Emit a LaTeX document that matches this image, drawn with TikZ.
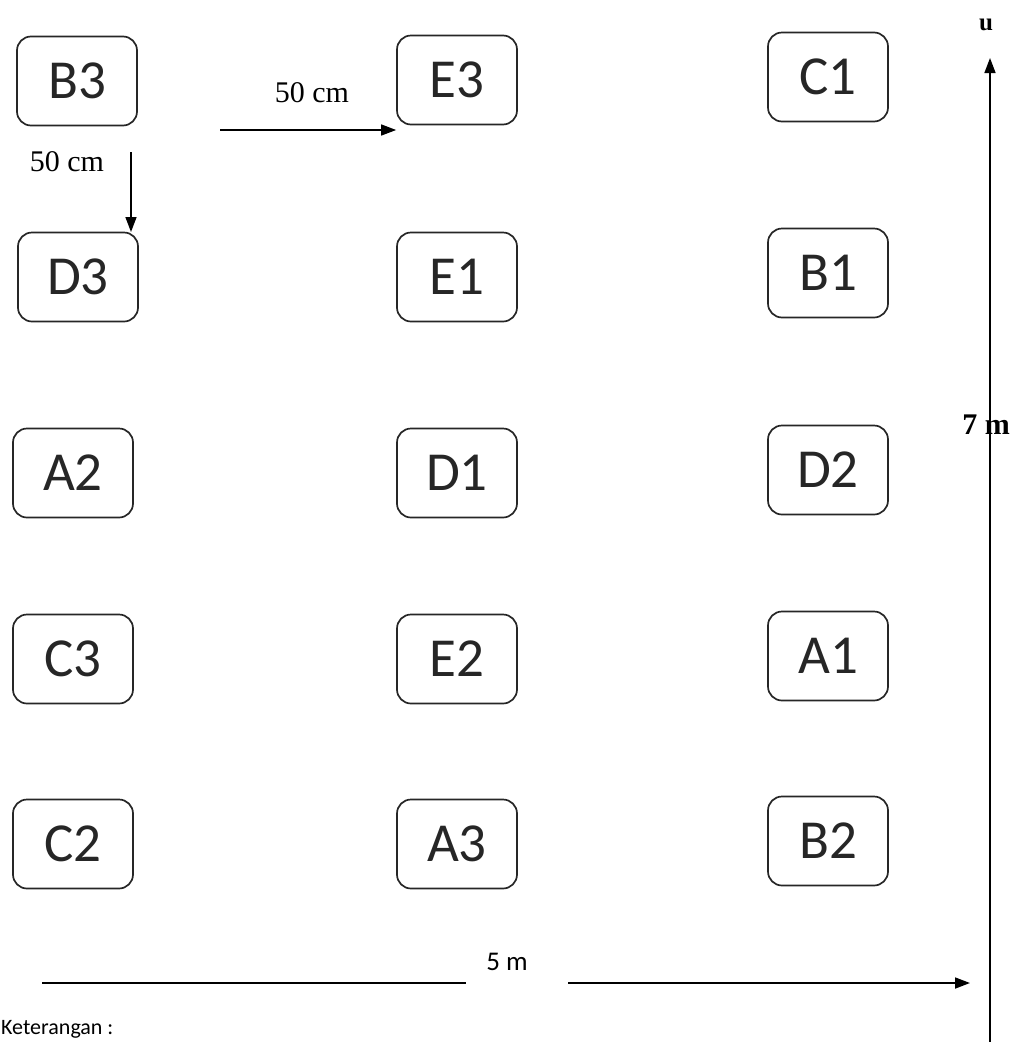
\documentclass[tikz,border=0pt]{standalone}
\usepackage{fontspec}
\setmainfont{Liberation Serif}
\newfontfamily\boxfont{Carlito}
\usetikzlibrary{arrows.meta}
\begin{document}
\begin{tikzpicture}[x=1pt,y=-1pt,
  plot/.style={draw=black!85, line width=1.7pt, rounded corners=14pt, minimum width=120pt, minimum height=89pt, inner sep=0pt, font=\boxfont\fontsize{55}{55}\selectfont, text=black!85},
  lbl/.style={inner sep=0pt, font=\fontsize{30}{30}\selectfont},
  arr/.style={line width=1.5pt, -{Triangle[length=15pt,width=11pt]}}]
\useasboundingbox (0,0) rectangle (1014,1042);
% column 1
\node[plot] (B3) at (77,81) {B3};
\node[plot] (D3) at (78,277) {D3};
\node[plot] (A2) at (73,473) {A2};
\node[plot] (C3) at (73,659) {C3};
\node[plot] (C2) at (73,844) {C2};
% column 2
\node[plot] (E3) at (457,80) {E3};
\node[plot] (E1) at (457,277) {E1};
\node[plot] (D1) at (457,473) {D1};
\node[plot] (E2) at (457,659) {E2};
\node[plot] (A3) at (457,844) {A3};
% column 3
\node[plot] (C1) at (828,77) {C1};
\node[plot] (B1) at (828,273) {B1};
\node[plot] (D2) at (828,470) {D2};
\node[plot] (A1) at (828,656) {A1};
\node[plot] (B2) at (828,841) {B2};
% spacing arrows
\coordinate (h0) at (220,130);
\draw[arr] (h0) -- (E3.south west |- h0);
\node[lbl] (h50) at (312,93) {50 cm};
\coordinate (v0) at (131,152);
\draw[arr] (v0) -- (131,232);
\node[lbl] (v50) at (67,162) {50 cm};
% north axis
\coordinate (nb) at (990,1042);
\coordinate (nt) at (990,58);
\draw[arr] (nb) -- (nt);
\node[inner sep=0pt, font=\bfseries\fontsize{25}{25}\selectfont] (u) at (986,25) {u};
\node[inner sep=0pt, font=\bfseries\fontsize{30}{30}\selectfont] (seven) at (986,425) {7 m};
% width axis
\coordinate (w0) at (42,983);
\coordinate (w1) at (466,983);
\coordinate (w2) at (568,983);
\coordinate (w3) at (970,983);
\draw[line width=1.7pt] (w0) -- (w1);
\draw[line width=1.7pt, -{Triangle[length=15pt,width=11pt]}] (w2) -- (w3);
\node[inner sep=0pt, font=\boxfont\fontsize{27}{27}\selectfont] (five) at (507,962) {5 m};
\node[inner sep=0pt, anchor=west, font=\boxfont\fontsize{22}{22}\selectfont] (ket) at (1,1029) {Keterangan :};
\end{tikzpicture}
\end{document}
